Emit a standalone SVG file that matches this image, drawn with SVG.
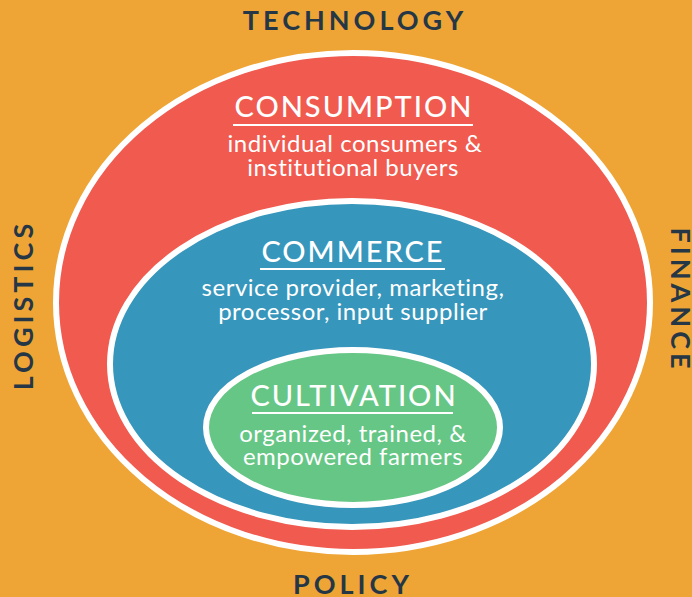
<svg xmlns="http://www.w3.org/2000/svg" width="692" height="597" viewBox="0 0 692 597">
<style>
.ring{stroke:#fff;stroke-width:6}
.side{font-family:Lato,"Open Sans",sans-serif;font-weight:700;font-size:27px;fill:#253746;letter-spacing:4px;text-anchor:middle}
.head{font-family:Lato,"Open Sans",sans-serif;font-weight:500;font-size:29px;fill:#fff;letter-spacing:2px;text-anchor:middle}
.body{font-family:Lato,"Open Sans",sans-serif;font-weight:400;font-size:24px;fill:#fff;letter-spacing:0.5px;text-anchor:middle}
.ul{stroke:#fff;stroke-width:2}
</style>
<rect x="0" y="0" width="692" height="597" fill="#EEA536"/>
<g id="frame-labels">
<text class="side" x="355" y="30">TECHNOLOGY</text>
<text class="side" x="353" y="594">POLICY</text>
<text class="side" transform="translate(33,305) rotate(-90)">LOGISTICS</text>
<text class="side" transform="translate(671,300) rotate(90)">FINANCE</text>
</g>
<g id="consumption">
<ellipse class="ring" cx="353" cy="302.5" rx="297" ry="249.5" fill="#F05A4F"/>
<text class="head" x="354" y="117">CONSUMPTION</text>
<line class="ul" x1="233" y1="125" x2="473" y2="125"/>
<text class="body" x="355" y="152">individual consumers &amp;</text>
<text class="body" x="353" y="176">institutional buyers</text>
</g>
<g id="commerce">
<ellipse class="ring" cx="352" cy="364" rx="242" ry="163" fill="#3796BB"/>
<text class="head" x="353" y="262">COMMERCE</text>
<line class="ul" x1="260" y1="269" x2="445" y2="269"/>
<text class="body" x="353" y="296">service provider, marketing,</text>
<text class="body" x="353" y="320">processor, input supplier</text>
</g>
<g id="cultivation">
<ellipse class="ring" cx="353" cy="427.5" rx="147" ry="77.5" fill="#66C685"/>
<text class="head" x="354" y="406">CULTIVATION</text>
<line class="ul" x1="252" y1="413" x2="453" y2="413"/>
<text class="body" x="353" y="442">organized, trained, &amp;</text>
<text class="body" x="353" y="465">empowered farmers</text>
</g>
</svg>
